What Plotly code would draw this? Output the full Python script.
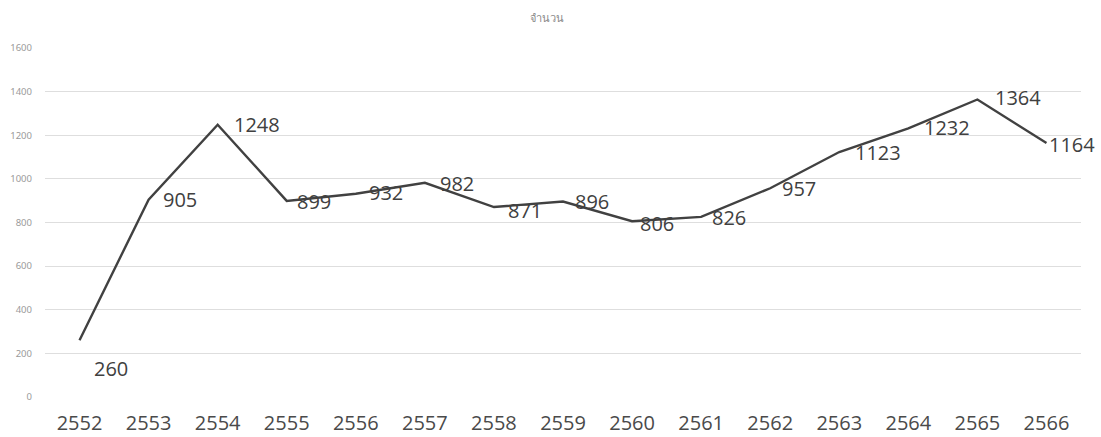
import plotly.graph_objects as go

years = ["2552", "2553", "2554", "2555", "2556", "2557", "2558", "2559",
         "2560", "2561", "2562", "2563", "2564", "2565", "2566"]
counts = [260, 905, 1248, 899, 932, 982, 871, 896, 806, 826, 957, 1123, 1232, 1364, 1164]
title_text = "จำนวน"

# label offsets (pixels) relative to each point
label_dx = [12, 12, 14, 8, 11, 13, 12, 10, 6, 9, 10, 14, 14, 16, 1]
label_dy = [-28, 0, 0, -1, 1, -1, -3, 0, -2, -1, 0, 0, 1, 2, -1]

fig = go.Figure(go.Scatter(
    x=years, y=counts, mode="lines",
    line=dict(color="#414141", width=2.4),
    showlegend=False,
))

for i, (v, dx, dy) in enumerate(zip(counts, label_dx, label_dy)):
    fig.add_annotation(x=i, y=v, xref="x", yref="y", text=str(v), showarrow=False,
                       xanchor="left", yanchor="middle", xshift=dx, yshift=dy,
                       font=dict(family="Open Sans", size=20, color="#404040"))

fig.update_layout(
    width=1101, height=437,
    margin=dict(l=45, r=20, t=48, b=40),
    paper_bgcolor="white", plot_bgcolor="white",
    title=dict(text=title_text, x=0.497, xanchor="center", y=0.958, yanchor="middle",
               font=dict(family="Noto Sans", size=11, color="#8a8a8a")),
    xaxis=dict(type="category", range=[-0.5, 14.5], showgrid=False, showline=False,
               zeroline=False, ticks="", automargin=False,
               tickfont=dict(family="Open Sans", size=20, color="#4a4a4a"),
               ticklabelstandoff=12),
    yaxis=dict(range=[0, 1600], dtick=200, showgrid=True, gridcolor="#dedede",
               gridwidth=1, zeroline=False, showline=False, ticks="", automargin=False,
               tickfont=dict(family="Noto Sans", size=9.5, color="#9a9a9a"),
               ticklabelstandoff=12),
)

fig.write_html("out.html", config={"displayModeBar": False},
               post_script="document.body.style.margin='0';")
